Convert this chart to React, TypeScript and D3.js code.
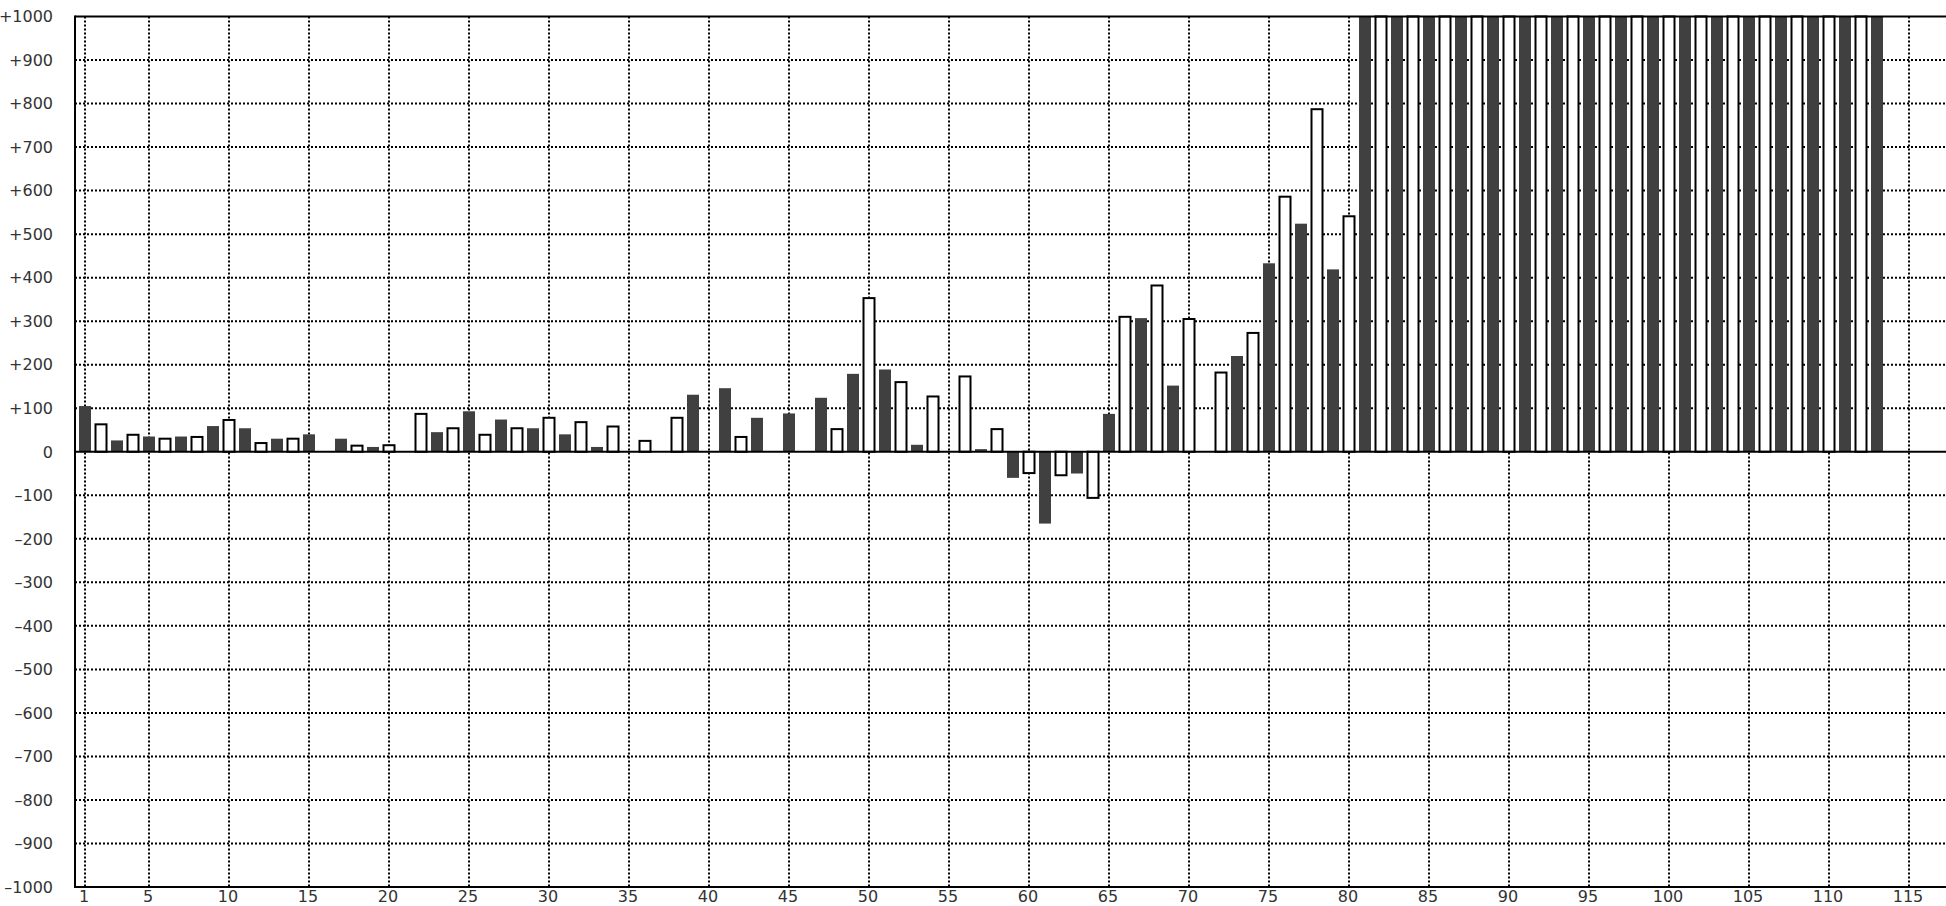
import React from "react";
import * as d3 from "d3";

// Category positions 1..115 on the x axis
const categories: number[] = d3.range(1, 116);

// Bar values per category (odd = dark series, even = light series); 0 = no bar
const values: number[] = [
  105, 63, 26, 39, 35, 30, 35, 34, 59, 73,
  54, 20, 30, 30, 40, 0, 30, 14, 11, 15,
  0, 87, 45, 54, 93, 39, 74, 54, 54, 78,
  40, 68, 11, 58, 0, 25, 0, 78, 131, 0,
  146, 34, 78, 0, 88, 0, 124, 52, 179, 353,
  189, 160, 16, 127, 0, 173, 6, 52, -60, -49,
  -165, -54, -50, -106, 87, 310, 307, 382, 152, 305,
  0, 182, 220, 273, 433, 586, 524, 787, 419, 541,
  1000, 1000, 1000, 1000, 1000, 1000, 1000, 1000, 1000, 1000,
  1000, 1000, 1000, 1000, 1000, 1000, 1000, 1000, 1000, 1000,
  1000, 1000, 1000, 1000, 1000, 1000, 1000, 1000, 1000, 1000,
  1000, 1000, 1000, 0, 0,
];

const xTicks: number[] = [1, 5, 10, 15, 20, 25, 30, 35, 40, 45, 50, 55, 60, 65, 70, 75, 80, 85, 90, 95, 100, 105, 110, 115];
const yTicks: number[] = d3.range(-1000, 1001, 100);

const W = 1946;
const H = 906;
const left = 75;
const top = 16.5;
const bottom = 887;

function fmtY(v: number): string {
  if (v > 0) return "+" + v;
  if (v < 0) return "\u2013" + Math.abs(v);
  return "0";
}

export default function App() {
  const x = d3.scaleLinear().domain([1, 115]).range([85, 1909]);
  const y = d3.scaleLinear().domain([-1000, 1000]).range([bottom, top]).clamp(true);
  const y0 = y(0);
  const font = "'DejaVu Sans', sans-serif";

  return (
    <svg
      width={W}
      height={H}
      style={{ position: "absolute", left: 0, top: 0, display: "block", background: "#fff" }}
    >
      {/* grid */}
      <g stroke="#000" strokeWidth={2} strokeDasharray="2 2" fill="none">
        {yTicks
          .filter((v) => v !== 0 && Math.abs(v) !== 1000)
          .map((v) => (
            <line key={"gy" + v} x1={left} x2={W} y1={y(v)} y2={y(v)} />
          ))}
        {xTicks.map((t) => (
          <line key={"gx" + t} x1={x(t)} x2={x(t)} y1={top} y2={bottom} />
        ))}
      </g>

      {/* bars */}
      <g>
        {categories.map((c, i) => {
          const v = values[i];
          if (!v) return null;
          const yv = y(v);
          const yTop = Math.min(yv, y0);
          const h = Math.abs(yv - y0);
          const cx = x(c);
          if (c % 2 === 1) {
            return <rect key={c} x={cx - 6} y={yTop} width={12} height={h} fill="#404040" />;
          }
          return (
            <rect
              key={c}
              x={cx - 5.5}
              y={yTop}
              width={11}
              height={h}
              fill="#fff"
              stroke="#000"
              strokeWidth={2}
            />
          );
        })}
      </g>

      {/* zero line and frame */}
      <line x1={left} x2={W} y1={y0} y2={y0} stroke="#000" strokeWidth={2} />
      <line x1={left} x2={W} y1={top} y2={top} stroke="#000" strokeWidth={2} />
      <line x1={left} x2={W} y1={bottom} y2={bottom} stroke="#000" strokeWidth={2} />
      <line x1={left} x2={left} y1={top - 1} y2={bottom + 1} stroke="#000" strokeWidth={2} />

      {/* y labels */}
      <g fontFamily={font} fontSize={16} fill="#333" textAnchor="end">
        {yTicks.map((v) => (
          <text key={"ly" + v} x={53} y={y(v)} dy="0.36em">
            {fmtY(v)}
          </text>
        ))}
      </g>

      {/* x labels */}
      <g fontFamily={font} fontSize={16} fill="#333" textAnchor="middle">
        {xTicks.map((t) => (
          <text key={"lx" + t} x={x(t) - 1} y={902}>
            {t}
          </text>
        ))}
      </g>
    </svg>
  );
}
